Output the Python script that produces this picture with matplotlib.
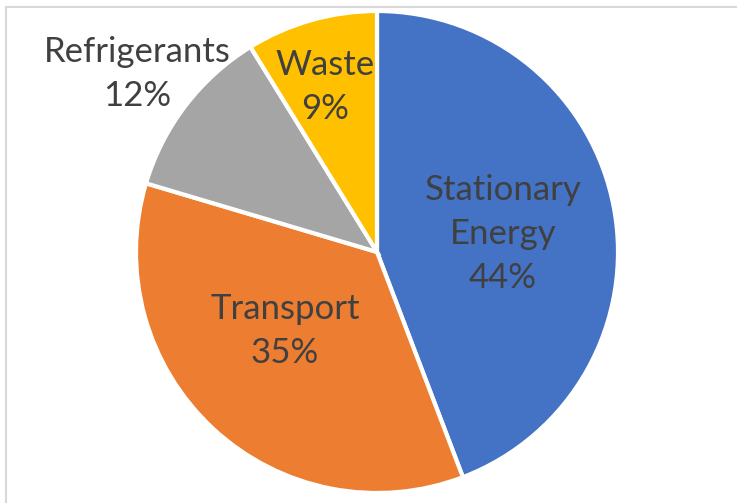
import matplotlib.pyplot as plt
from matplotlib.patches import Rectangle

# Emissions share by sector (%)
sectors = ['Stationary\nEnergy', 'Transport', 'Refrigerants', 'Waste']
shares = [44.2, 35.4, 11.6, 8.8]
colors = ['#4472C4', '#ED7D31', '#A5A5A5', '#FFC000']

W, H = 737, 503
fig = plt.figure(figsize=(W / 100, H / 100), dpi=100)

# light chart-area border, as in the spreadsheet export
fig.patches.append(Rectangle((6 / W, -0.1), 1.1, 1 - 7 / H + 0.1, transform=fig.transFigure,
                             fill=False, edgecolor='#D9D9D9', linewidth=1.5))

# pie centered at (377, 252) px, radius ~241 px
cx, cy, r = 377, 252, 241
ax = fig.add_axes([(cx - r) / W, (H - cy - r) / H, 2 * r / W, 2 * r / H])
wedges, _ = ax.pie(shares, colors=colors, startangle=90, counterclock=False,
                   wedgeprops=dict(edgecolor='white', linewidth=3), radius=1)
ax.set_xlim(-1, 1)
ax.set_ylim(-1, 1)
ax.set_aspect('equal')
ax.axis('off')

# label positions (pie units)
label_pos = [(0.523, 0.075), (-0.382, -0.328), (-0.996, 0.739), (-0.216, 0.685)]
for name, val, (x, y) in zip(sectors, shares, label_pos):
    ax.text(x, y, f'{name}\n{val:.0f}%', ha='center', va='center', fontsize=25,
            family='Lato', color='#404040', linespacing=1.45, clip_on=False)

fig.savefig('out.png', dpi=100)
